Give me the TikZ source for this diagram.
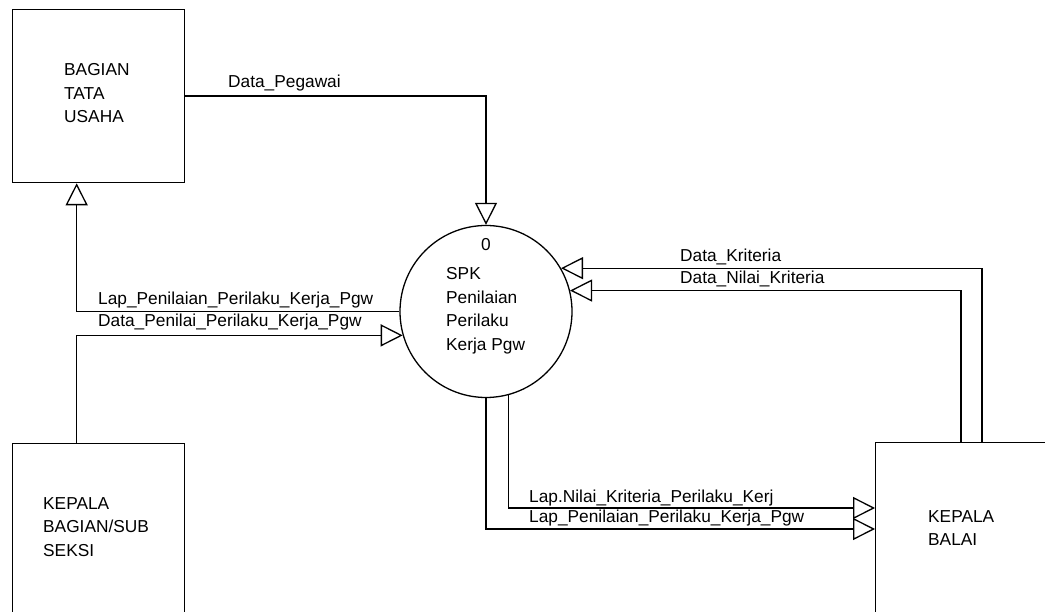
\documentclass[tikz,border=0pt]{standalone}
\usepackage{fontspec}
\setmainfont{Liberation Sans}
\usetikzlibrary{arrows.meta}
\begin{document}
\begin{tikzpicture}[x=1pt,y=-1pt,
  flow/.style={line width=1.3pt, -{Triangle[open,length=22pt,width=22pt]}},
  entity/.style={draw, line width=1.3pt, rectangle, inner sep=0pt, anchor=north west},
  proc/.style={draw, line width=1.3pt, circle, minimum size=172pt, inner sep=0pt},
  lbl/.style={anchor=base west, inner sep=0pt, font=\fontsize{17.3pt}{23.5pt}\selectfont},
  num/.style={anchor=base, inner sep=0pt, font=\fontsize{17.3pt}{23.5pt}\selectfont},
]
\useasboundingbox (0,0) rectangle (1045,612);
\clip (0,0) rectangle (1045,612);

% external entities and the process
\node[entity, minimum width=172pt, minimum height=173pt] (btu) at (12,9) {};
\node[entity, minimum width=172pt, minimum height=200pt] (kbs) at (12,443) {};
\node[entity, minimum width=200pt, minimum height=200pt] (kb) at (875,442) {};
\node[proc] (proc) at (486,311.5) {};

% texts inside the shapes
\node[lbl] (btu-t) at (64,76) {\vtop{\hbox{BAGIAN}\hbox{TATA}\hbox{USAHA}}};
\node[lbl] (kbs-t) at (43,509) {\vtop{\hbox{KEPALA}\hbox{BAGIAN/SUB}\hbox{SEKSI}}};
\node[lbl] (kb-t) at (928,522) {\vtop{\hbox{KEPALA}\hbox{BALAI}}};
\node[num] (proc-n) at (486,251) {0};
\node[lbl] (proc-t) at (446,280) {\vtop{\hbox{SPK}\hbox{Penilaian}\hbox{Perilaku}\hbox{Kerja Pgw}}};

% data flows
\draw[flow] (btu.east) -| (proc.north);
\draw[flow] (proc.west) -| ([xshift=-22pt]btu.south);
\draw[flow] ([xshift=-22pt]kbs.north) |- (proc.196);
\draw[flow] ([xshift=107pt]kb.north west) |- (proc.30);
\draw[flow] ([xshift=86pt]kb.north west) |- (proc.14);
\draw[flow] (proc.-75) |- ([yshift=-66pt]kb.north west);
\draw[flow] (proc.south) |- ([yshift=-87pt]kb.north west);

% flow labels
\node[lbl] (l-peg) at (228,88) {Data\_Pegawai};
\node[lbl] (l-lap1) at (98,305) {Lap\_Penilaian\_Perilaku\_Kerja\_Pgw};
\node[lbl] (l-dpn) at (98,327) {Data\_Penilai\_Perilaku\_Kerja\_Pgw};
\node[lbl] (l-dk) at (680,262) {Data\_Kriteria};
\node[lbl] (l-dnk) at (680,284) {Data\_Nilai\_Kriteria};
\node[lbl] (l-lnk) at (529,502) {Lap.Nilai\_Kriteria\_Perilaku\_Kerj};
\node[lbl] (l-lap2) at (529,522) {Lap\_Penilaian\_Perilaku\_Kerja\_Pgw};
\end{tikzpicture}
\end{document}
